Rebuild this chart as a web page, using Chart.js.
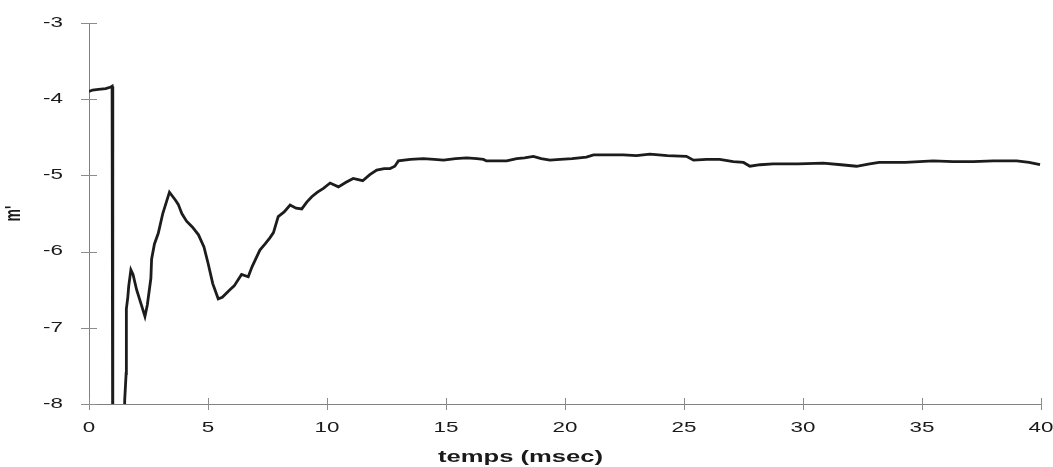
<!DOCTYPE html>
<html><head><meta charset="utf-8">
<script src="https://cdn.jsdelivr.net/npm/chart.js@4"></script>
<style>html,body{margin:0;padding:0;background:#fff}canvas{display:block}</style>
</head><body>
<canvas id="c" width="1053" height="467"></canvas>
<script>
// ---- data ----
const timesMs = [0.00,0.15,0.40,0.70,0.92,0.97,1.00,1.25,1.44,1.50,1.56,1.57,1.63,1.67,1.76,1.85,2.00,2.20,2.35,2.45,2.60,2.63,2.75,2.91,3.10,3.25,3.38,3.50,3.62,3.75,3.90,4.10,4.35,4.60,4.83,5.00,5.20,5.43,5.60,5.92,6.10,6.41,6.69,6.85,7.18,7.40,7.60,7.75,7.95,8.20,8.45,8.70,8.94,9.15,9.36,9.60,9.85,10.13,10.48,10.80,11.10,11.50,11.80,12.09,12.40,12.65,12.85,13.00,13.50,14.05,14.50,14.90,15.40,15.87,16.30,16.57,16.70,17.10,17.55,17.97,18.30,18.67,19.00,19.37,19.80,20.30,20.90,21.20,21.80,22.45,23.00,23.57,24.30,25.10,25.40,25.95,26.50,27.07,27.50,27.77,28.20,28.75,29.80,30.85,31.60,32.25,32.80,33.20,34.30,35.47,36.30,37.15,38.00,38.98,39.50,39.96];
const mValues = [-3.90,-3.88,-3.87,-3.86,-3.84,-3.83,-9.5,-9.5,-9.5,-7.95,-7.60,-6.75,-6.60,-6.45,-6.24,-6.30,-6.50,-6.70,-6.85,-6.70,-6.35,-6.10,-5.90,-5.76,-5.50,-5.35,-5.22,-5.27,-5.32,-5.38,-5.50,-5.60,-5.68,-5.78,-5.94,-6.15,-6.42,-6.62,-6.60,-6.50,-6.45,-6.30,-6.33,-6.20,-5.98,-5.90,-5.82,-5.75,-5.54,-5.48,-5.39,-5.43,-5.44,-5.35,-5.28,-5.22,-5.17,-5.10,-5.15,-5.09,-5.04,-5.07,-4.99,-4.93,-4.91,-4.91,-4.88,-4.81,-4.79,-4.78,-4.79,-4.80,-4.78,-4.77,-4.78,-4.79,-4.81,-4.81,-4.81,-4.78,-4.77,-4.75,-4.78,-4.80,-4.79,-4.78,-4.76,-4.73,-4.73,-4.73,-4.74,-4.72,-4.74,-4.75,-4.80,-4.79,-4.79,-4.82,-4.83,-4.88,-4.86,-4.85,-4.85,-4.84,-4.86,-4.88,-4.85,-4.83,-4.83,-4.81,-4.82,-4.82,-4.81,-4.81,-4.83,-4.86];
const xTickValues = [0,5,10,15,20,25,30,35,40];
const yTickValues = [-8,-7,-6,-5,-4,-3];
const xTitle = 'temps (msec)';
const yTitle = "m'";

// ---- scanned look: text is drawn stretched horizontally ----
const canvas = document.getElementById('c');
const ctx = canvas.getContext('2d');
const TEXT_STRETCH = 1.6;
const nativeFill = ctx.fillText.bind(ctx);
ctx.fillText = function (text, x, y, maxWidth) {
  const m = ctx.getTransform();
  const p = m.transformPoint(new DOMPoint(x, y));
  const n = new DOMMatrix().translate(p.x, p.y).scale(TEXT_STRETCH, 1).translate(-p.x, -p.y).multiply(m);
  ctx.setTransform(n);
  if (maxWidth === undefined || maxWidth === null) nativeFill(text, x, y); else nativeFill(text, x, y, maxWidth);
  ctx.setTransform(m);
};

const crossTicks = {
  id: 'crossTicks',
  beforeDatasetsDraw(chart) {
    const c = chart.ctx, xs = chart.scales.x, ys = chart.scales.y;
    c.save();
    c.strokeStyle = '#8c8c8c';
    c.lineWidth = 1;
    c.beginPath();
    xs.ticks.forEach((t, i) => {
      const px = Math.round(xs.getPixelForTick(i)) + 0.5;
      c.moveTo(px, xs.top - 6); c.lineTo(px, xs.top + 6);
    });
    ys.ticks.forEach((t, i) => {
      const py = Math.round(ys.getPixelForTick(i)) + 0.5;
      c.moveTo(ys.right - 8, py); c.lineTo(ys.right + 8, py);
    });
    c.stroke();
    c.restore();
  }
};

const FONT = "'Liberation Sans', Arial, sans-serif";
const TEXT = '#1a1a1a';
const noPad = s => { s.paddingTop = 0; s.paddingBottom = 0; s.paddingLeft = 0; s.paddingRight = 0; };

new Chart(ctx, {
  type: 'line',
  data: {
    datasets: [{
      data: timesMs.map((t, i) => ({ x: t, y: mValues[i] })),
      borderColor: '#1c1c1c',
      borderWidth: 2.8,
      pointRadius: 0,
      tension: 0,
      fill: false
    }]
  },
  options: {
    responsive: false,
    animation: false,
    devicePixelRatio: 1,
    layout: { autoPadding: false, padding: { top: 23, right: 12, left: 0, bottom: 0 } },
    plugins: {
      legend: { display: false },
      tooltip: { enabled: false },
      title: {
        display: true, text: xTitle, position: 'bottom',
        font: { family: FONT, size: 16, weight: 'bold', lineHeight: 1.2 },
        color: TEXT, padding: 0
      }
    },
    scales: {
      x: {
        type: 'linear', min: 0, max: 40,
        afterBuildTicks: s => { s.ticks = xTickValues.map(v => ({ value: v })); },
        afterFit: s => { s.height = 43.8; noPad(s); },
        grid: { display: true, drawOnChartArea: false, drawTicks: false },
        border: { display: true, color: '#808080', width: 1 },
        ticks: { padding: 16, color: TEXT, font: { family: FONT, size: 14 }, maxRotation: 0 }
      },
      y: {
        type: 'linear', min: -8, max: -3,
        afterBuildTicks: s => { s.ticks = yTickValues.map(v => ({ value: v })); },
        afterFit: s => { s.width = 89; noPad(s); },
        grid: { display: true, drawOnChartArea: false, drawTicks: false },
        border: { display: true, color: '#808080', width: 1 },
        ticks: { padding: 26, color: TEXT, font: { family: FONT, size: 14 } },
        title: {
          display: true, text: yTitle, color: TEXT,
          font: { family: FONT, size: 14, weight: 'bold' },
          padding: { top: 5, bottom: 0 }
        }
      }
    }
  },
  plugins: [crossTicks]
});
</script>
</body></html>
